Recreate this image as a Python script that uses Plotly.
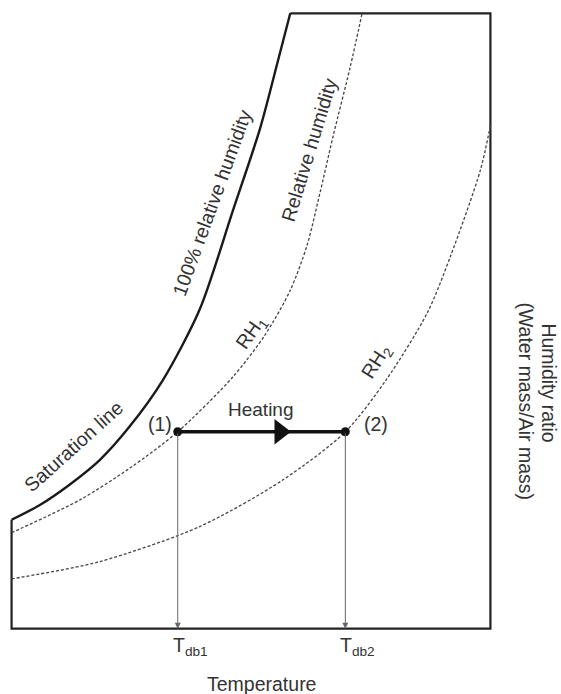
import plotly.graph_objects as go

# ---- data (schematic psychrometric chart) ----
sat_T = [0.0, 5.9, 12.1, 18.4, 24.6, 31.6, 39.3, 46.2, 51.9, 55.6, 58.2]
sat_W = [17.7, 20.1, 23.4, 27.4, 32.8, 40.4, 51.9, 67.9, 81.3, 92.2, 100.0]

rh1_T = [0.0, 14.2, 24.7, 34.7, 46.2, 52.9, 58.2, 61.7, 64.4, 67.2, 70.7, 73.2]
rh1_W = [15.6, 20.9, 26.1, 32.0, 40.9, 47.7, 55.0, 62.3, 70.8, 80.2, 91.2, 100.0]

rh2_T = [0.0, 18.4, 39.3, 56.7, 69.7, 78.2, 86.8, 91.6, 97.9, 100.0]
rh2_W = [8.1, 10.9, 16.6, 24.2, 32.0, 40.4, 51.3, 60.4, 74.5, 81.8]

state_T = [34.7, 69.7]
state_W = [32.0, 32.0]
state_labels = ["(1)", "(2)"]
temp_labels = ["T<sub>db1</sub>", "T<sub>db2</sub>"]
arrow_frac = 0.61

T_MIN, T_MAX = 0.0, 100.0
W_MIN, W_MAX = 0.0, 100.0

# ---- layout geometry ----
WIDTH, HEIGHT = 561, 694
PAD = 2.0
XR = [T_MIN - PAD, T_MAX + PAD]
YR = [W_MIN - PAD, W_MAX + PAD]
sx = 478 / (T_MAX - T_MIN)
sy = 616 / (W_MAX - W_MIN)
L = 12 - PAD * sx
Wd = (XR[1] - XR[0]) * sx
R = WIDTH - L - Wd
T = 13 - PAD * sy
Hd = (YR[1] - YR[0]) * sy
B = HEIGHT - T - Hd


def dx(px):
    return XR[0] + (px - L) / sx


def dy(py):
    return YR[1] - (py - T) / sy


def paper_x(px):
    return (px - L) / Wd


def paper_y(py):
    return 1 - (py - T) / Hd


FONT = "Liberation Sans, Arial, sans-serif"
TXT = "#333333"
FS = 19.5

fig = go.Figure()

# frame
fig.add_trace(go.Scatter(
    x=[sat_T[0], T_MIN, T_MAX, T_MAX, sat_T[-1]],
    y=[sat_W[0], W_MIN, W_MIN, W_MAX, W_MAX],
    mode="lines", line=dict(color="#222222", width=2.2),
    hoverinfo="skip", showlegend=False))
# saturation line
fig.add_trace(go.Scatter(
    x=sat_T, y=sat_W, mode="lines",
    line=dict(color="#1a1a1a", width=2.4, shape="spline", smoothing=0.8),
    hoverinfo="skip", showlegend=False))
# RH curves
for tt, ww in [(rh1_T, rh1_W), (rh2_T, rh2_W)]:
    fig.add_trace(go.Scatter(
        x=tt, y=ww, mode="lines",
        line=dict(color="#444444", width=1.3, dash="3px,2px", shape="spline", smoothing=0.8),
        hoverinfo="skip", showlegend=False))

# heating process
fig.add_trace(go.Scatter(
    x=state_T, y=state_W, mode="lines+markers",
    line=dict(color="#111111", width=3.5),
    marker=dict(color="#111111", size=9),
    hoverinfo="skip", showlegend=False))
fig.add_trace(go.Scatter(
    x=[state_T[0] + arrow_frac * (state_T[1] - state_T[0])], y=[state_W[0]],
    mode="markers", marker=dict(symbol="triangle-right", size=22, color="#111111"),
    hoverinfo="skip", showlegend=False))

annotations = []
# vertical drop lines with arrowheads
for t, w in zip(state_T, state_W):
    annotations.append(dict(
        x=t, y=W_MIN, ax=t, ay=w, xref="x", yref="y", axref="x", ayref="y",
        text="", showarrow=True, arrowhead=2, arrowsize=1.2, arrowwidth=1,
        arrowcolor="#666666"))

# temperature tick labels
for t, lab in zip(state_T, temp_labels):
    annotations.append(dict(
        x=t, y=W_MIN, xref="x", yref="y", text=lab, showarrow=False,
        xanchor="left", yanchor="top", xshift=-7, yshift=-3,
        font=dict(family=FONT, size=FS, color=TXT)))


def label(text, px, py, angle=0, size=FS):
    annotations.append(dict(
        x=dx(px), y=dy(py), xref="x", yref="y", text=text, showarrow=False,
        textangle=angle, xanchor="center", yanchor="middle",
        font=dict(family=FONT, size=size, color=TXT)))


def plabel(text, px, py, angle=0, size=FS):
    annotations.append(dict(
        x=paper_x(px), y=paper_y(py), xref="paper", yref="paper", text=text,
        showarrow=False, textangle=angle, xanchor="center", yanchor="middle",
        font=dict(family=FONT, size=size, color=TXT)))


label("Saturation line", 74, 446, -42)
label("100% relative humidity", 212, 203, -70)
label("Relative humidity", 309, 150, -73)
label("RH<sub>1</sub>", 252, 333, -55)
label("RH<sub>2</sub>", 377, 362, -58)
label(state_labels[0], 160, 424)
label(state_labels[1], 376, 424)
label("Heating", 261, 410, 0, 19)
plabel("Temperature", 261, 684)
plabel("Humidity ratio", 549, 383, 90)
plabel("(Water mass/Air mass)", 526, 402, 90)

fig.update_layout(
    width=WIDTH, height=HEIGHT,
    margin=dict(l=L, r=R, t=T, b=B, pad=0),
    paper_bgcolor="white", plot_bgcolor="white",
    xaxis=dict(range=XR, visible=False, fixedrange=True),
    yaxis=dict(range=YR, visible=False, fixedrange=True),
    annotations=annotations,
    showlegend=False,
)

fig.write_html("out.html", config={"displayModeBar": False},
               post_script="document.body.style.margin='0';")
